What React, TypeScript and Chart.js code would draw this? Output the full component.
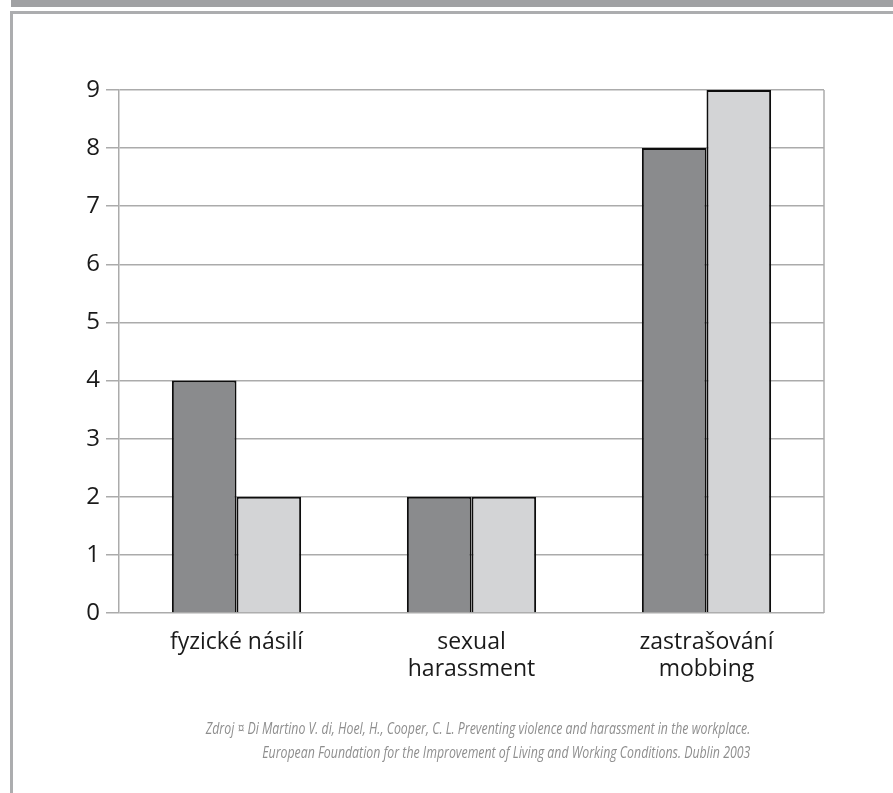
import React, { useEffect, useRef } from "react";
import { Chart, registerables } from "chart.js";

Chart.register(...registerables);

// Categories (multi-line labels) and the two series
const categories: string[][] = [
  ["fyzické násilí"],
  ["sexual", "harassment"],
  ["zastrašování", "mobbing"],
];
const seriesDark: number[] = [4, 2, 8];
const seriesLight: number[] = [2, 2, 9];
const yTicks: number[] = [0, 1, 2, 3, 4, 5, 6, 7, 8, 9];

const sourceLines: string[] = [
  "Zdroj ¤ Di Martino V. di, Hoel, H., Cooper, C. L. Preventing violence and harassment in the workplace.",
  "European Foundation for the Improvement of Living and Working Conditions. Dublin 2003",
];

const GRID = "#ababab";

// Draws the right-hand edge of the plot frame
const frameRight = {
  id: "frameRight",
  afterDatasetsDraw(chart: Chart) {
    const { ctx, chartArea } = chart;
    ctx.save();
    ctx.strokeStyle = GRID;
    ctx.lineWidth = 1.5;
    ctx.beginPath();
    ctx.moveTo(chartArea.right, chartArea.top);
    ctx.lineTo(chartArea.right, chartArea.bottom);
    ctx.stroke();
    ctx.restore();
  },
};

export default function App() {
  const canvasRef = useRef<HTMLCanvasElement | null>(null);

  useEffect(() => {
    if (!canvasRef.current) return;
    const chart = new Chart(canvasRef.current, {
      type: "bar",
      data: {
        labels: categories,
        datasets: [
          {
            data: seriesDark,
            backgroundColor: "#8a8b8d",
            borderColor: "#0d0d0d",
            borderWidth: 2,
            categoryPercentage: 0.55,
            barPercentage: 1,
          },
          {
            data: seriesLight,
            backgroundColor: "#d3d4d6",
            borderColor: "#0d0d0d",
            borderWidth: 2,
            categoryPercentage: 0.55,
            barPercentage: 1,
          },
        ],
      },
      options: {
        animation: false,
        responsive: false,
        maintainAspectRatio: false,
        layout: { padding: { left: 0, top: 90, right: 69, bottom: 0 } },
        plugins: {
          legend: { display: false },
          tooltip: { enabled: false },
        },
        scales: {
          x: {
            grid: { display: false, drawOnChartArea: false },
            border: { display: false },
            ticks: {
              color: "#1a1a1a",
              padding: 8,
              font: { family: "'Open Sans', sans-serif", size: 23, lineHeight: 1.17 },
              maxRotation: 0,
              autoSkip: false,
            },
            afterFit(scale: any) {
              scale.height = 180;
            },
          },
          y: {
            min: 0,
            max: 9,
            afterBuildTicks(scale: any) {
              scale.ticks = yTicks.map((v) => ({ value: v }));
            },
            grid: {
              color: GRID,
              lineWidth: 1.5,
              tickLength: 13,
              drawTicks: true,
            },
            border: { display: true, color: GRID, width: 1.5 },
            ticks: {
              color: "#1a1a1a",
              padding: 6,
              font: { family: "'Open Sans', sans-serif", size: 24 },
            },
            afterFit(scale: any) {
              scale.width = 119;
            },
          },
        },
      },
      plugins: [frameRight],
    });
    return () => chart.destroy();
  }, []);

  return (
    <div
      style={{
        position: "absolute",
        left: 0,
        top: 0,
        width: 893,
        height: 793,
        background: "#ffffff",
        overflow: "hidden",
      }}
    >
      {/* top band */}
      <div style={{ position: "absolute", left: 11, top: 0, width: 882, height: 7, background: "#a0a1a3" }} />
      {/* frame: top and left rules */}
      <div style={{ position: "absolute", left: 10, top: 11, width: 883, height: 3, background: "#acadaf" }} />
      <div style={{ position: "absolute", left: 10, top: 11, width: 3, height: 782, background: "#acadaf" }} />
      <canvas
        ref={canvasRef}
        width={893}
        height={793}
        style={{ position: "absolute", left: 0, top: 0, width: 893, height: 793 }}
      />
      <div
        style={{
          position: "absolute",
          right: 893 - 750,
          top: 716,
          textAlign: "right",
          color: "#8e8e8e",
          fontStyle: "italic",
          fontFamily: "'Open Sans', sans-serif",
          fontSize: 16,
          lineHeight: "24px",
          whiteSpace: "nowrap",
          transform: "scaleX(0.77)",
          transformOrigin: "right top",
        }}
      >
        {sourceLines.map((l, i) => (
          <div key={i}>{l}</div>
        ))}
      </div>
    </div>
  );
}
